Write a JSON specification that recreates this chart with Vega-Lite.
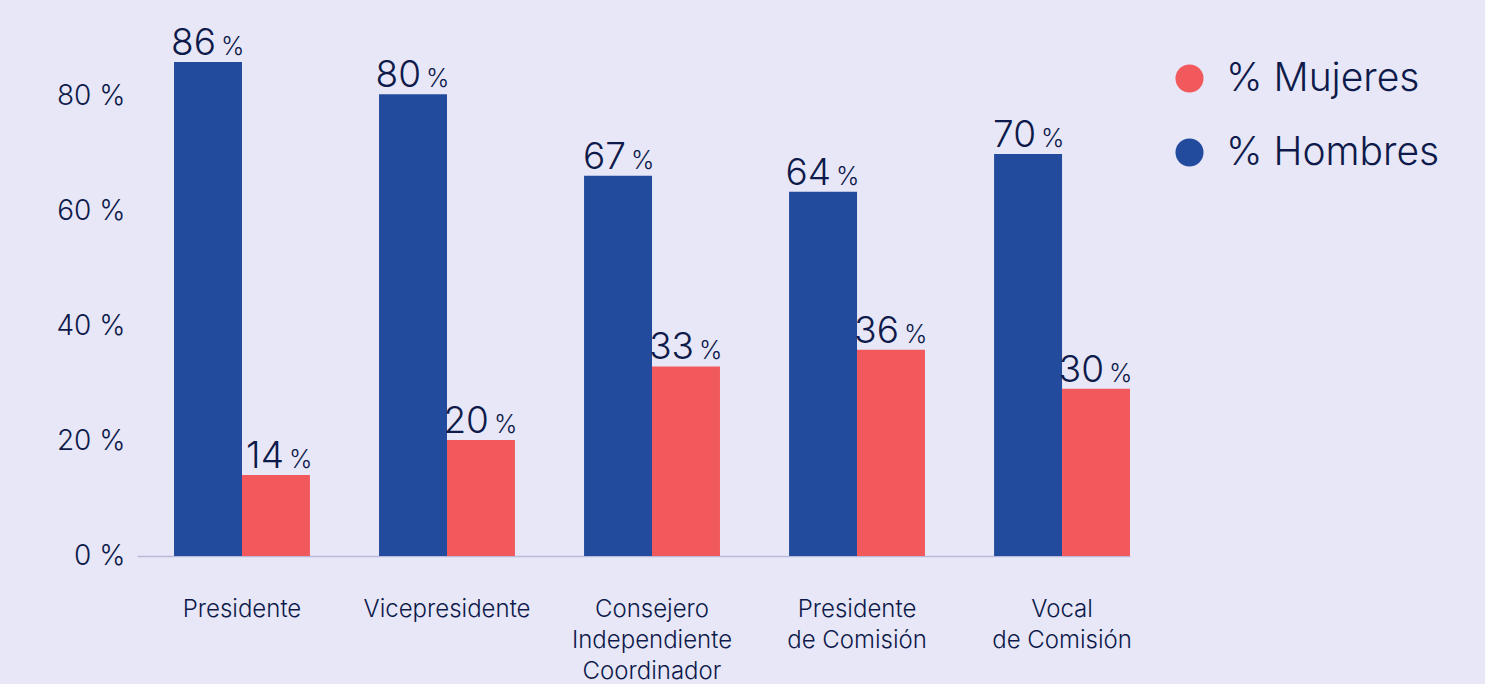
{
  "$schema": "https://vega.github.io/schema/vega-lite/v6.json",
  "width": 993,
  "height": 494,
  "autosize": {"type": "none"},
  "padding": {"left": 137, "top": 62, "right": 355, "bottom": 128},
  "background": "#E7E7F8",
  "config": {
    "view": {"stroke": null},
    "font": "Inter",
    "axis": {"labelColor": "#0E1A4A", "labelFont": "Inter", "labelFontWeight": 300},
    "legend": {"labelColor": "#0E1A4A", "labelFont": "Inter", "labelFontWeight": 300}
  },
  "data": {
    "values": [
      {"cargo": "Presidente", "genero": "% Hombres", "valor": 86.0, "etiqueta": "86"},
      {"cargo": "Presidente", "genero": "% Mujeres", "valor": 14.1, "etiqueta": "14"},
      {"cargo": "Vicepresidente", "genero": "% Hombres", "valor": 80.4, "etiqueta": "80"},
      {"cargo": "Vicepresidente", "genero": "% Mujeres", "valor": 20.2, "etiqueta": "20"},
      {"cargo": "Consejero|Independiente|Coordinador", "genero": "% Hombres", "valor": 66.2, "etiqueta": "67"},
      {"cargo": "Consejero|Independiente|Coordinador", "genero": "% Mujeres", "valor": 33.0, "etiqueta": "33"},
      {"cargo": "Presidente|de Comisión", "genero": "% Hombres", "valor": 63.4, "etiqueta": "64"},
      {"cargo": "Presidente|de Comisión", "genero": "% Mujeres", "valor": 35.9, "etiqueta": "36"},
      {"cargo": "Vocal|de Comisión", "genero": "% Hombres", "valor": 70.0, "etiqueta": "70"},
      {"cargo": "Vocal|de Comisión", "genero": "% Mujeres", "valor": 29.1, "etiqueta": "30"}
    ]
  },
  "encoding": {
    "x": {
      "field": "cargo",
      "type": "nominal",
      "sort": null,
      "scale": {"paddingInner": 0.337, "paddingOuter": 0.0903, "align": 1},
      "axis": {
        "title": null,
        "labelAngle": 0,
        "labelExpr": "split(datum.label, '|')",
        "labelFontSize": 24,
        "labelLineHeight": 31,
        "labelPadding": 41,
        "ticks": false,
        "domainColor": "#B9B9DC",
        "domainWidth": 1.5
      }
    },
    "xOffset": {
      "field": "genero",
      "type": "nominal",
      "sort": ["% Hombres", "% Mujeres"],
      "scale": {"paddingInner": 0, "paddingOuter": 0}
    },
    "y": {
      "field": "valor",
      "type": "quantitative",
      "scale": {"domain": [0, 86], "nice": false, "zero": true},
      "axis": {
        "title": null,
        "values": [0, 20, 40, 60, 80],
        "labelExpr": "datum.value + ' %'",
        "labelFontSize": 28,
        "labelPadding": 12,
        "domain": false,
        "ticks": false,
        "grid": false
      }
    }
  },
  "layer": [
    {
      "mark": {"type": "bar"},
      "encoding": {
        "color": {
          "field": "genero",
          "type": "nominal",
          "scale": {"domain": ["% Mujeres", "% Hombres"], "range": ["#F2595D", "#224B9E"]},
          "legend": {
            "title": null,
            "orient": "none",
            "legendX": 1033,
            "legendY": -3,
            "symbolType": "circle",
            "symbolSize": 784,
            "symbolStrokeWidth": 0,
            "labelFontSize": 39,
            "labelOffset": 17,
            "labelLimit": 400,
            "rowPadding": 34
          }
        }
      }
    },
    {
      "mark": {"type": "text", "align": "right", "baseline": "alphabetic", "dx": 8, "dy": -7, "fontSize": 37, "fontWeight": 300, "color": "#0E1A4A"},
      "encoding": {"text": {"field": "etiqueta"}}
    },
    {
      "mark": {"type": "text", "align": "left", "baseline": "alphabetic", "dx": 13, "dy": -7, "fontSize": 25, "fontWeight": 300, "color": "#0E1A4A"},
      "encoding": {"text": {"value": "%"}}
    }
  ]
}
